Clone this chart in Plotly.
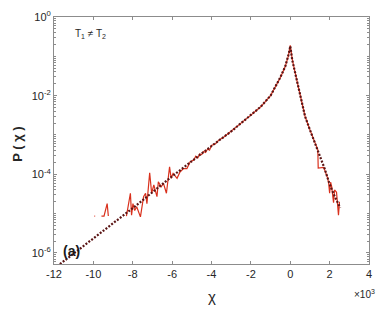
import plotly.graph_objects as go

# Fit curve (dotted): chi values and probability density
fit_chi = [-11700, -10000, -8000, -6000, -5000, -4000, -3000, -2000, -1500, -1000,
           -500, -250, -100, -50, 0, 50, 100, 250, 500, 750, 1000, 1250, 1500,
           1750, 2000, 2250, 2540]
fit_p = [5.2e-7, 2.4e-6, 1.38e-5, 8.9e-5, 2.19e-4, 5.25e-4, 1.23e-3, 3.16e-3, 5.25e-3, 1.0e-2,
         2.95e-2, 5.6e-2, 0.1, 0.13, 0.182, 0.12, 0.081, 0.038, 0.010, 3.0e-3, 1.35e-3, 6.3e-4, 3.0e-4,
         1.38e-4, 5.6e-5, 2.8e-5, 1.41e-5]

# Measured distribution (red); None = empty bin
data_chi = [-9950, -9910, -9800, -9590, -9460, -9300, -9240, -9000,
            -8320, -8200, -8120, -8060, -7990, -7900, -7800, -7610, -7450, -7350, -7280,
            -7140, -7040, -6930, -6770, -6700, -6560, -6440, -6290, -6130, -6050, -5950,
            -5750, -5600, -5420, -5250, -5080, -4900, -4800, -4700, -4600, -4500, -4400,
            -4300, -4200, -4100, -4000, -3800, -3600, -3400, -3200, -3000, -2500, -2000,
            -1500, -1000, -500, -250, -100, 0, 100, 250, 500, 750, 1000, 1250, 1400,
            1420, 1600, 1700, 1800, 1900, 1950, 2000, 2050, 2100, 2200, 2250, 2350,
            2450, 2500]
data_p = [8.7e-6, 8.7e-6, None, 8.7e-6, 8.7e-6, 1.8e-5, 8.7e-6, None,
          8.7e-6, 1.8e-5, 3.3e-5, 9.1e-6, 1.8e-5, 1.2e-5, 1.5e-5, 8.3e-6, 2.7e-5, 3.3e-5, 1.8e-5,
          1.1e-4, 3.3e-5, 5.4e-5, 2.7e-5, 6.5e-5, 4.8e-5, 5.9e-5, 3.3e-5, 1.55e-4, 7.9e-5, 1.05e-4,
          7.9e-5, 1.15e-4, 1.4e-4, 1.4e-4, 2.1e-4, 2.3e-4, 2.9e-4, 2.6e-4, 3.3e-4, 3.2e-4, 3.8e-4,
          3.6e-4, 4.4e-4, 4.1e-4, 5.4e-4, 6.0e-4, 7.6e-4, 8.6e-4, 1.05e-3, 1.25e-3, 2.0e-3, 3.2e-3,
          5.2e-3, 1.0e-2, 2.9e-2, 5.6e-2, 0.1, 0.19, 0.085, 0.038, 0.010, 3.0e-3, 1.35e-3, 6.3e-4, 4.2e-4,
          1.45e-4, 1.45e-4, 1.5e-4, 1.1e-4, 8e-5, 6.0e-5, 3.3e-5, 6.3e-5, 5.0e-5, 1.9e-5, 4.0e-5, 3.5e-5,
          9.1e-6, 2.0e-5]

x_tickvals = [-12000, -10000, -8000, -6000, -4000, -2000, 0, 2000, 4000]
x_ticktext = ["-12", "-10", "-8", "-6", "-4", "-2", "0", "2", "4"]
y_tickvals = [1e-6, 1e-4, 1e-2, 1]
y_ticktext = ["10<sup>-6</sup>", "10<sup>-4</sup>", "10<sup>-2</sup>", "10<sup>0</sup>"]

FONT = "Liberation Sans, Arial, Helvetica, sans-serif"
AX = "#8c8c8c"

fig = go.Figure()
fig.add_trace(go.Scatter(x=data_chi, y=data_p, mode="lines", connectgaps=False,
                         line=dict(color="#d9301c", width=1.2), showlegend=False))
fig.add_trace(go.Scatter(x=fit_chi, y=fit_p, mode="lines",
                         line=dict(color="#5a1414", width=2.2, dash="2px,1.6px"), showlegend=False))

fig.update_layout(
    width=390, height=314,
    margin=dict(l=46, r=29, t=9, b=58, autoexpand=False),
    paper_bgcolor="white", plot_bgcolor="white",
    font=dict(family=FONT, size=11, color="#262626"),
    xaxis=dict(range=[-12000, 4000], tickvals=x_tickvals, ticktext=x_ticktext,
               automargin=False,
               showline=True, linecolor=AX, linewidth=1, mirror="ticks",
               ticks="inside", ticklen=3, tickcolor=AX, showgrid=False, zeroline=False,
               tickfont=dict(size=11, color="#262626")),
    yaxis=dict(type="log", range=[-6.28, 0], tickvals=y_tickvals, ticktext=y_ticktext,
               automargin=False,
               showline=True, linecolor=AX, linewidth=1, mirror="ticks",
               ticks="inside", ticklen=3, tickcolor=AX, showgrid=False, zeroline=False,
               tickfont=dict(size=11, color="#262626"),
               minor=dict(ticks="inside", ticklen=2, tickcolor=AX, dtick="D1", showgrid=False)),
)

fig.add_annotation(xref="paper", yref="paper", x=-0.115, y=0.486, text="<b>P ( χ )</b>",
                   textangle=-90, showarrow=False, font=dict(size=13, color="#262626"),
                   xanchor="center", yanchor="middle")
fig.add_annotation(xref="paper", yref="paper", x=0.5, y=-0.13, text="χ",
                   showarrow=False, font=dict(size=15, color="#262626"),
                   xanchor="center", yanchor="middle")
fig.add_annotation(xref="paper", yref="paper", x=1.025, y=-0.09, text="×10<sup>3</sup>",
                   showarrow=False, font=dict(size=10, color="#262626"),
                   xanchor="right", yanchor="top")
fig.add_annotation(xref="paper", yref="paper", x=0.06, y=0.93, text="T<sub>1</sub> ≠ T<sub>2</sub>",
                   showarrow=False, font=dict(size=10, color="#262626"),
                   xanchor="left", yanchor="middle")
fig.add_annotation(xref="paper", yref="paper", x=0.022, y=0.053, text="<b>(a)</b>",
                   showarrow=False, font=dict(size=14, color="#1a1a1a"),
                   xanchor="left", yanchor="middle")

fig.write_html("out.html")
